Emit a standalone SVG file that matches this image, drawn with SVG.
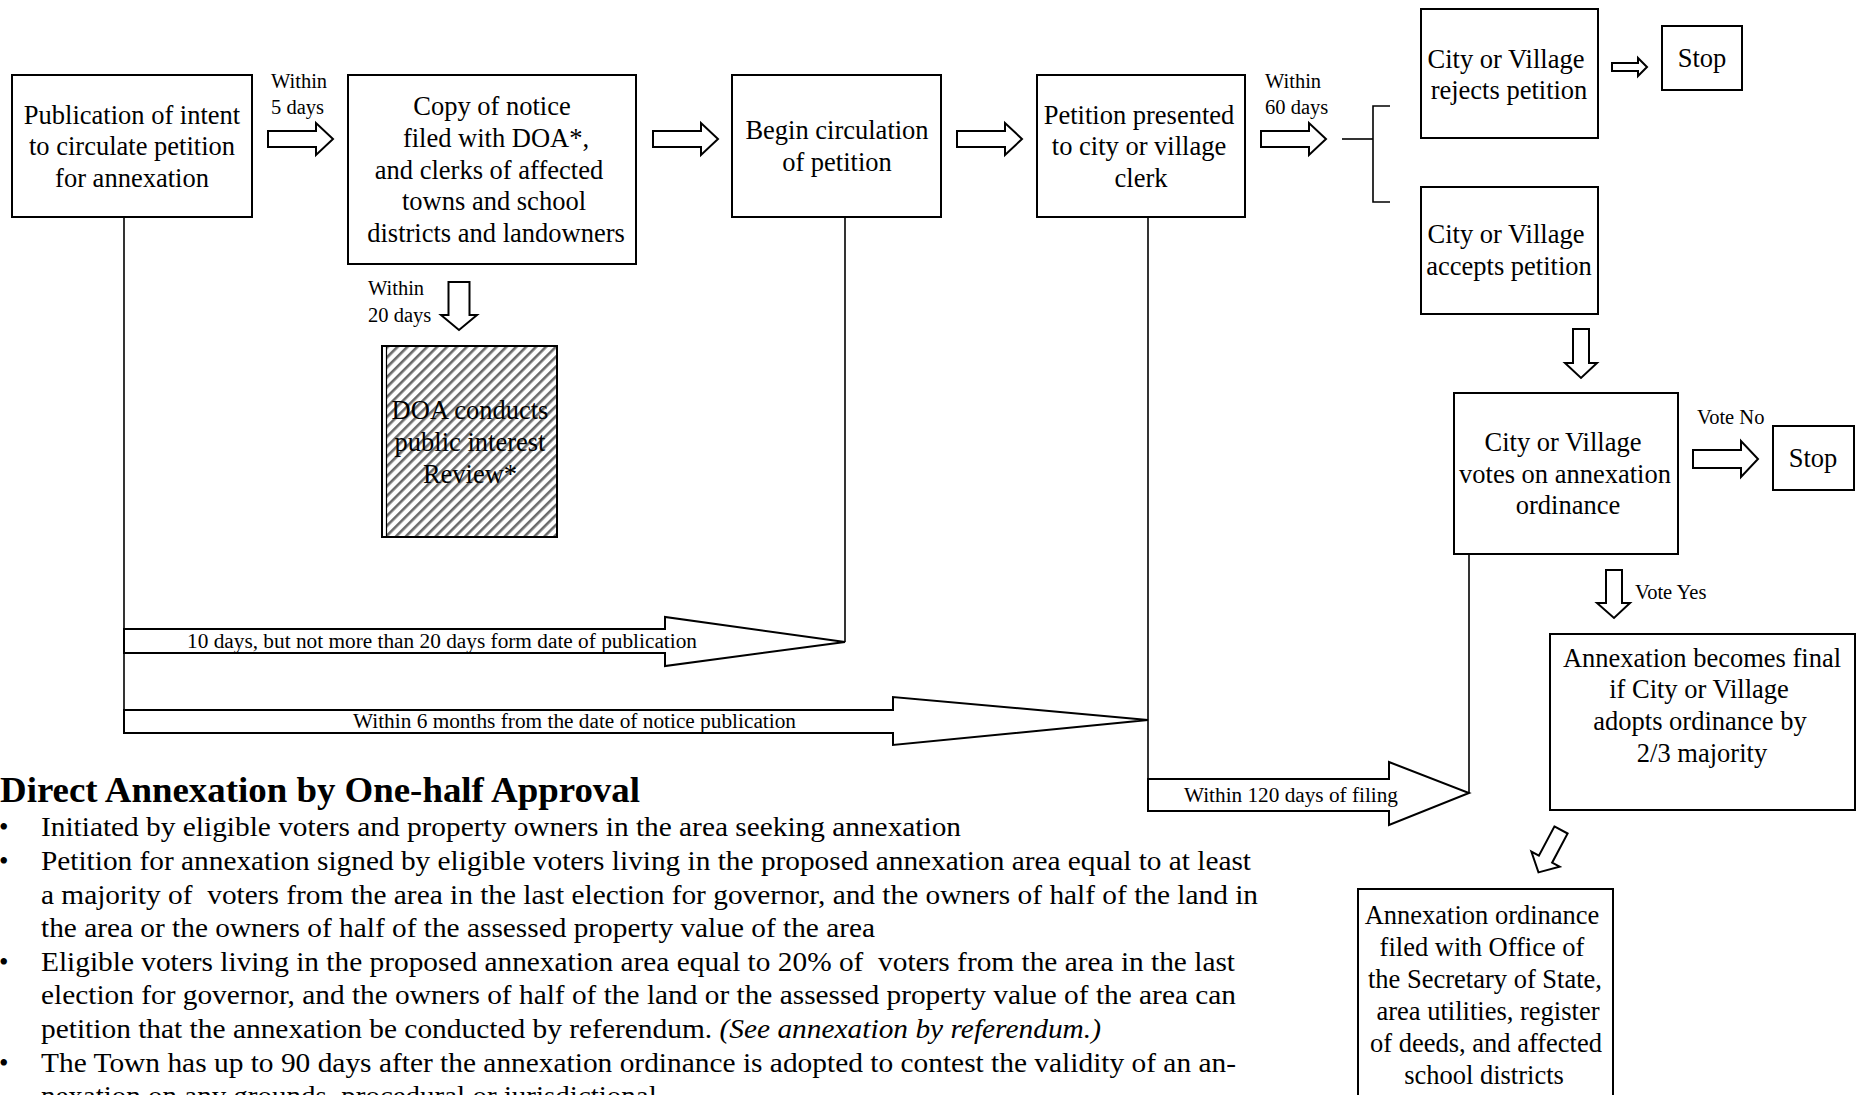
<svg xmlns="http://www.w3.org/2000/svg" xmlns:xlink="http://www.w3.org/1999/xlink" width="1858" height="1095" viewBox="0 0 1858 1095">
<style>
.box{fill:#fff;stroke:#000;stroke-width:2}
.bt{font-family:"Liberation Serif","Times New Roman",serif;font-size:26.5px;fill:#000;text-anchor:middle}
.lb{font-family:"Liberation Serif","Times New Roman",serif;font-size:20.5px;fill:#000}
.at{font-family:"Liberation Serif","Times New Roman",serif;font-size:20px;fill:#000}
.ar{fill:#fff;stroke:#000;stroke-width:2;stroke-linejoin:miter}
.ln{fill:none;stroke:#000;stroke-width:1.6}
.para{font-family:"Liberation Serif","Times New Roman",serif;font-size:27px;fill:#000}
.title{font-family:"Liberation Serif","Times New Roman",serif;font-size:36px;font-weight:bold;fill:#000}
</style>
<defs>
<polygon id="rarrow" class="ar" points="0,-8 48,-8 48,-16 65,0 48,16 48,8 0,8"/>
<pattern id="hatch" patternUnits="userSpaceOnUse" width="7" height="7" patternTransform="rotate(45)">
<rect x="0" y="0" width="7" height="7" fill="#fff"/>
<rect x="0" y="0" width="2.6" height="7" fill="#6a6a6a"/>
</pattern>
</defs>
<rect x="0" y="0" width="1858" height="1095" fill="#fff"/>

<g id="connectors">
<line class="ln" x1="124" y1="217" x2="124" y2="733"/>
<line class="ln" x1="845" y1="217" x2="845" y2="642"/>
<line class="ln" x1="1148" y1="217" x2="1148" y2="811"/>
<line class="ln" x1="1469" y1="553" x2="1469" y2="793"/>
<polyline class="ln" points="1342,139 1373,139"/>
<polyline class="ln" points="1390,106 1373,106 1373,202 1390,202"/>
<use xlink:href="#rarrow" x="268" y="139"/>
<use xlink:href="#rarrow" x="653" y="139"/>
<use xlink:href="#rarrow" x="957" y="139"/>
<use xlink:href="#rarrow" x="1261" y="139"/>
<polygon class="ar" points="1612,63 1638,63 1638,58 1647,67 1638,76 1638,71 1612,71"/>
<polygon class="ar" points="1693,450 1741,450 1741,441 1758,459 1741,477 1741,468 1693,468"/>
<polygon class="ar" points="448.5,282 469.5,282 469.5,315 477,315 459,330 441,315 448.5,315"/>
<polygon class="ar" points="1573,329 1589,329 1589,363 1597,363 1581,378 1565,363 1573,363"/>
<polygon class="ar" points="1606,570 1622,570 1622,603 1630,603 1614,618 1597,603 1606,603"/>
<polygon class="ar" transform="translate(1561,830) rotate(28)" points="-7.5,0 7.5,0 7.5,33 16,33 0,48 -16,33 -7.5,33"/>
<polygon class="ar" points="124,629 665,629 665,617 845,642 665,666 665,653 124,653"/>
<polygon class="ar" points="124,710 893,710 893,697 1148,720 893,745 893,733 124,733"/>
<polygon class="ar" points="1148,779 1389,779 1389,762 1469,793 1389,825 1389,811 1148,811"/>
<text class="at" x="187" y="648" textLength="510" lengthAdjust="spacingAndGlyphs">10 days, but not more than 20 days form date of publication</text>
<text class="at" x="353" y="728" textLength="443" lengthAdjust="spacingAndGlyphs">Within 6 months from the date of notice publication</text>
<text class="at" x="1184" y="802" font-size="21" textLength="214" lengthAdjust="spacingAndGlyphs">Within 120 days of filing</text>
<text class="lb" x="271" y="88">Within</text>
<text class="lb" x="271" y="114">5 days</text>
<text class="lb" x="1265" y="88">Within</text>
<text class="lb" x="1265" y="114">60 days</text>
<text class="lb" x="368" y="295">Within</text>
<text class="lb" x="368" y="322">20 days</text>
<text class="lb" x="1697" y="424">Vote No</text>
<text class="lb" x="1635" y="599">Vote Yes</text>
</g>

<g id="n-publication">
<rect class="box" x="12" y="75" width="240" height="142"/>
<text class="bt" x="132" y="123.5">Publication of intent</text>
<text class="bt" x="132" y="155">to circulate petition</text>
<text class="bt" x="132" y="186.5">for annexation</text>
</g>
<g id="n-copy">
<rect class="box" x="348" y="75" width="288" height="189"/>
<text class="bt" x="492" y="115">Copy of notice</text>
<text class="bt" x="496" y="147">filed with DOA*,</text>
<text class="bt" x="489" y="178.5">and clerks of affected</text>
<text class="bt" x="494" y="210">towns and school</text>
<text class="bt" x="496" y="242">districts and landowners</text>
</g>
<g id="n-doa">
<rect x="382" y="346" width="175" height="191" fill="url(#hatch)" stroke="#000" stroke-width="2"/>
<rect x="383" y="347" width="3" height="189" fill="#fff"/>
<line x1="386.5" y1="346" x2="386.5" y2="537" stroke="#000" stroke-width="1.2"/>
<text class="bt" x="470" y="419">DOA conducts</text>
<text class="bt" x="470" y="451">public interest</text>
<text class="bt" x="470" y="483">Review*</text>
</g>
<g id="n-begin">
<rect class="box" x="732" y="75" width="209" height="142"/>
<text class="bt" x="837" y="139">Begin circulation</text>
<text class="bt" x="837" y="171">of petition</text>
</g>
<g id="n-presented">
<rect class="box" x="1037" y="75" width="208" height="142"/>
<text class="bt" x="1139" y="123.5">Petition presented</text>
<text class="bt" x="1139" y="155">to city or village</text>
<text class="bt" x="1141" y="186.5">clerk</text>
</g>
<g id="n-rejects">
<rect class="box" x="1421" y="9" width="177" height="129"/>
<text class="bt" x="1506" y="67.5">City or Village</text>
<text class="bt" x="1509" y="99">rejects petition</text>
</g>
<g id="n-stop1">
<rect class="box" x="1662" y="26" width="80" height="64"/>
<text class="bt" x="1702" y="67">Stop</text>
</g>
<g id="n-accepts">
<rect class="box" x="1421" y="187" width="177" height="127"/>
<text class="bt" x="1506" y="243">City or Village</text>
<text class="bt" x="1509" y="275">accepts petition</text>
</g>
<g id="n-votes">
<rect class="box" x="1454" y="393" width="224" height="161"/>
<text class="bt" x="1563" y="450.5">City or Village</text>
<text class="bt" x="1565" y="482.5">votes on annexation</text>
<text class="bt" x="1568" y="514">ordinance</text>
</g>
<g id="n-stop2">
<rect class="box" x="1773" y="426" width="81" height="64"/>
<text class="bt" x="1813" y="467">Stop</text>
</g>
<g id="n-final">
<rect class="box" x="1550" y="634" width="305" height="176"/>
<text class="bt" x="1702" y="667">Annexation becomes final</text>
<text class="bt" x="1699" y="698">if City or Village</text>
<text class="bt" x="1700" y="730">adopts ordinance by</text>
<text class="bt" x="1702" y="762">2/3 majority</text>
</g>
<g id="n-ordinance">
<rect class="box" x="1358" y="889" width="255" height="215"/>
<text class="bt" x="1482" y="924">Annexation ordinance</text>
<text class="bt" x="1482" y="956">filed with Office of</text>
<text class="bt" x="1485" y="988">the Secretary of State,</text>
<text class="bt" x="1488" y="1020">area utilities, register</text>
<text class="bt" x="1486" y="1052">of deeds, and affected</text>
<text class="bt" x="1484" y="1084">school districts</text>
</g>

<g id="notes">
<text class="title" x="0" y="802" textLength="640" lengthAdjust="spacingAndGlyphs">Direct Annexation by One-half Approval</text>
<text class="para" x="-1" y="836">•</text>
<text class="para" x="-1" y="870">•</text>
<text class="para" x="-1" y="971">•</text>
<text class="para" x="-1" y="1072">•</text>
<text class="para" x="41" y="836" textLength="920" lengthAdjust="spacingAndGlyphs">Initiated by eligible voters and property owners in the area seeking annexation</text>
<text class="para" x="41" y="870" textLength="1210" lengthAdjust="spacingAndGlyphs">Petition for annexation signed by eligible voters living in the proposed annexation area equal to at least</text>
<text class="para" x="41" y="904" textLength="1217" lengthAdjust="spacingAndGlyphs" xml:space="preserve">a majority of  voters from the area in the last election for governor, and the owners of half of the land in</text>
<text class="para" x="41" y="937" textLength="834" lengthAdjust="spacingAndGlyphs">the area or the owners of half of the assessed property value of the area</text>
<text class="para" x="41" y="971" textLength="1194" lengthAdjust="spacingAndGlyphs" xml:space="preserve">Eligible voters living in the proposed annexation area equal to 20% of  voters from the area in the last</text>
<text class="para" x="41" y="1004" textLength="1195" lengthAdjust="spacingAndGlyphs">election for governor, and the owners of half of the land or the assessed property value of the area can</text>
<text class="para" x="41" y="1038" textLength="1060" lengthAdjust="spacingAndGlyphs" xml:space="preserve">petition that the annexation be conducted by referendum. <tspan font-style="italic">(See annexation by referendum.)</tspan></text>
<text class="para" x="41" y="1072" textLength="1195" lengthAdjust="spacingAndGlyphs">The Town has up to 90 days after the annexation ordinance is adopted to contest the validity of an an-</text>
<text class="para" x="41" y="1105" textLength="623" lengthAdjust="spacingAndGlyphs">nexation on any grounds, procedural or jurisdictional.</text>
</g>
</svg>
